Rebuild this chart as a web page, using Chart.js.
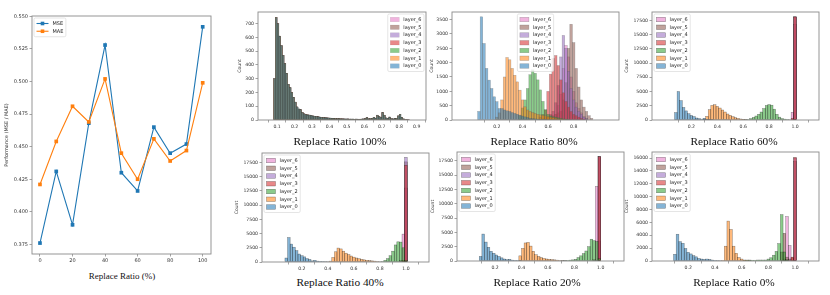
<!DOCTYPE html>
<html>
<head>
<meta charset="utf-8">
<script src="https://cdn.jsdelivr.net/npm/chart.js@4.4.0/dist/chart.umd.min.js"></script>
<style>
  html, body { margin: 0; padding: 0; background: #fff; }
  #fig { position: relative; width: 830px; height: 295px; overflow: hidden; }
  #fig canvas { position: absolute; }
  .cap { position: absolute; font-family: 'Liberation Serif', 'Times New Roman', serif; color: #111;
         white-space: nowrap; transform: translate(-50%, -50%); line-height: 1; }
</style>
</head>
<body>
<div id="fig">
  <canvas id="cLine"></canvas>
  <canvas id="c100"></canvas>
  <canvas id="c80"></canvas>
  <canvas id="c60"></canvas>
  <canvas id="c40"></canvas>
  <canvas id="c20"></canvas>
  <canvas id="c0"></canvas>
  <div class="cap" style="left:122px;top:276px;font-size:9px">Replace Ratio (%)</div>
  <div class="cap" style="left:340px;top:142px;font-size:11.3px">Replace Ratio 100%</div>
  <div class="cap" style="left:534px;top:142px;font-size:11.3px">Replace Ratio 80%</div>
  <div class="cap" style="left:734px;top:142px;font-size:11.3px">Replace Ratio 60%</div>
  <div class="cap" style="left:340px;top:283px;font-size:11.3px">Replace Ratio 40%</div>
  <div class="cap" style="left:537px;top:283px;font-size:11.3px">Replace Ratio 20%</div>
  <div class="cap" style="left:734px;top:283px;font-size:11.3px">Replace Ratio 0%</div>
</div>
<script>
/* ---------- data: left line chart ---------- */
const ratioPct = [0, 10, 20, 30, 40, 50, 60, 70, 80, 90, 100];
const mseVals = [0.376, 0.431, 0.390, 0.468, 0.528, 0.430, 0.416, 0.465, 0.445, 0.452, 0.542];
const maeVals = [0.421, 0.454, 0.481, 0.469, 0.502, 0.445, 0.425, 0.456, 0.439, 0.447, 0.499];
const lineXTicks = [0, 20, 40, 60, 80, 100];
const lineYTicks = [0.375, 0.400, 0.425, 0.450, 0.475, 0.500, 0.525, 0.550];

/* ---------- data: histograms (counts per bin, layer_0 .. layer_6) ---------- */
const layerNames = ['layer_0', 'layer_1', 'layer_2', 'layer_3', 'layer_4', 'layer_5', 'layer_6'];

// Replace Ratio 100% -- all seven layers lie on top of each other
const r100Width = 0.01;
const r100Start = 0.085;
const r100Counts = [300, 745, 700, 610, 540, 470, 410, 340, 260, 235,
  200, 165, 130, 95, 80, 75, 55, 45, 40, 38,
  36, 34, 30, 28, 26, 24, 22, 20, 18, 17,
  16, 15, 14, 13, 12, 11, 10, 10, 9, 9,
  8, 8, 8, 7, 7, 7, 6, 7, 6, 6,
  7, 8, 10, 18, 9, 10, 12, 20, 14, 35,
  25, 20, 55, 35, 15, 12, 22, 10, 8, 10,
  12, 30, 42, 20, 8, 5, 4, 3];

// Replace Ratio 80%
const r80Width = 0.02;
const r80Start = [0.06, 0.20, 0.38, 0.54, 0.60, 0.56, 0.66];
const r80L0 = [300, 3600, 2670, 1800, 1390, 1100, 810, 640, 400, 400, 350, 320, 300, 260, 230, 200, 170, 140, 110, 90, 60, 50, 40, 30, 25, 20, 15, 10];
const r80L1 = [100, 250, 700, 1500, 2180, 2100, 1800, 1560, 1330, 1040, 700, 460, 350, 300, 260, 230, 200, 180, 160, 140, 120, 100, 80, 60, 40, 30, 20];
const r80L2 = [150, 420, 700, 1100, 1580, 1750, 1630, 1400, 1050, 650, 360, 200, 150, 120, 100, 80, 60, 40, 30, 20];
const r80L3 = [100, 200, 350, 1000, 1600, 2150, 2250, 1900, 1400, 950, 650, 450, 300, 200, 150, 100, 60, 30];
const r80L4 = [100, 200, 300, 600, 1200, 2200, 2950, 2500, 1700, 1100, 700, 450, 300, 200, 100, 50];
const r80L5 = [50, 80, 100, 120, 150, 200, 250, 300, 700, 1300, 2500, 3340, 2700, 1800, 1150, 700, 450, 300, 150, 60];
const r80L6 = [200, 500, 900, 1800, 2600, 2200, 1500, 1000, 600, 400, 250, 120, 50];

// Replace Ratio 60%
const r60Width = 0.02;
const r60Start = [0.08, 0.30, 0.60, 0.98, 1.00, 1.00, 0.98];
const r60L0 = [1300, 5000, 3400, 2200, 1600, 1100, 800, 600, 350, 250, 150, 300, 120, 80, 60, 50, 40, 30, 30, 20];
const r60L1 = [150, 640, 1800, 2560, 2680, 2390, 2100, 1750, 1400, 1050, 820, 580, 410, 290, 175, 120, 80, 50];
const r60L2 = [60, 80, 100, 250, 450, 700, 1000, 1400, 2000, 2550, 2700, 2600, 1900, 1000, 500, 250, 150, 100, 60];
const r60L3 = [300, 18100];
const r60L4 = [18100];
const r60L5 = [18100];
const r60L6 = [1340, 16800];

// Replace Ratio 40%
const r40Width = 0.02;
const r40Start = [0.08, 0.42, 0.82, 0.98, 1.00, 1.00, 0.96];
const r40L0 = [700, 4300, 3150, 2600, 2000, 1400, 1100, 900, 600, 450, 200, 300, 150, 120, 100, 80, 60];
const r40L1 = [150, 800, 1800, 2450, 2300, 1900, 1550, 1300, 1050, 850, 700, 580, 470, 380, 300, 250, 200, 150, 100, 60];
const r40L2 = [100, 300, 600, 1100, 1900, 3000, 3550, 3500, 2500, 300];
const r40L3 = [300, 17000];
const r40L4 = [18400];
const r40L5 = [17600];
const r40L6 = [300, 4900, 13000];

// Replace Ratio 20%
const r20Width = 0.02;
const r20Start = [0.09, 0.39, 0.71, 0.99, 0.99, 0.99, 0.95];
const r20L0 = [800, 4700, 3300, 2400, 1700, 1350, 1050, 800, 550, 350, 250, 300, 150, 120, 100, 80];
const r20L1 = [900, 2200, 3150, 3250, 2600, 1700, 1100, 800, 600, 450, 350, 300, 250, 200, 150, 100, 80, 60];
const r20L2 = [60, 80, 100, 150, 200, 300, 600, 900, 1300, 1750, 2500, 3800, 3550, 3400, 400];
const r20L3 = [18200];
const r20L4 = [18200];
const r20L5 = [18200];
const r20L6 = [300, 13000, 3500];

// Replace Ratio 0%
const r0Width = 0.02;
const r0Start = [0.10, 0.46, 0.62, 0.98, 1.00, 0.90, 0.92];
const r0L0 = [1040, 4160, 3000, 2750, 1950, 1350, 1100, 830, 650, 400, 300, 250, 300, 250, 150, 100, 80, 60];
const r0L1 = [100, 2300, 6200, 4900, 2300, 1200, 550, 300, 150, 100, 60];
const r0L2 = [100, 150, 150, 120, 120, 150, 150, 150, 150, 300, 500, 900, 1500, 2700, 7200, 1400, 200];
const r0L3 = [600, 16100];
const r0L4 = [16000];
const r0L5 = [1400, 4300, 600, 300, 500, 15500];
const r0L6 = [300, 6900, 2400];

// axis ticks
const xTicks100 = [0.1, 0.2, 0.3, 0.4, 0.5, 0.6, 0.7, 0.8, 0.9];
const xTicks80 = [0.2, 0.4, 0.6, 0.8];
const xTicksFull = [0.2, 0.4, 0.6, 0.8, 1.0];
const yTicks100 = [0, 100, 200, 300, 400, 500, 600, 700];
const yTicks80 = [0, 500, 1000, 1500, 2000, 2500, 3000, 3500];
const yTicksBig = [0, 2500, 5000, 7500, 10000, 12500, 15000, 17500];
const yTicks0 = [0, 2000, 4000, 6000, 8000, 10000, 12000, 14000, 16000];

/* ---------- layout / style ---------- */
const PAD_T = 6, PAD_R = 8, AXIS_H = 10;
const layerRGB = ['31,119,180', '255,127,14', '44,160,44', '214,39,40', '148,103,189', '140,86,75', '227,119,194'];
const FONT = 'DejaVu Sans';

function bins(start, width, counts) {
  return counts.map((c, i) => ({ x: +(start + i * width).toFixed(4), y: c }));
}

// grey box round the plot, like matplotlib spines
const frame = {
  id: 'frame',
  afterDatasetsDraw(chart) {
    const a = chart.chartArea, ctx = chart.ctx;
    ctx.save();
    ctx.strokeStyle = '#8a8a8a';
    ctx.lineWidth = 0.9;
    ctx.strokeRect(a.left, a.top, a.right - a.left, a.bottom - a.top);
    ctx.restore();
  }
};

// thin outline of every bar, drawn right after its own layer
const barEdges = {
  id: 'barEdges',
  afterDatasetDraw(chart, args, o) {
    if (!o.color) return;
    const ctx = chart.ctx;
    ctx.save();
    ctx.strokeStyle = o.color;
    ctx.lineWidth = o.width;
    args.meta.data.forEach(el => {
      const h = el.base - el.y;
      if (h <= 0) return;
      ctx.strokeRect(el.x - el.width / 2, el.y, el.width, h);
    });
    ctx.restore();
  }
};

// legend drawn inside the plot area
const boxLegend = {
  id: 'boxLegend',
  afterDatasetsDraw(chart, args, o) {
    if (!o.where) return;
    const ctx = chart.ctx, a = chart.chartArea;
    let sets = chart.data.datasets.slice();
    if (o.reverse) sets.reverse();
    const fs = o.fontSize, row = fs * 1.55, pad = fs * 0.5;
    ctx.save();
    ctx.font = fs + 'px "' + FONT + '"';
    const tw = Math.max(...sets.map(d => ctx.measureText(d.label).width));
    const w = pad + o.handleW + fs * 0.8 + tw + pad;
    const h = pad * 2 + row * sets.length - fs * 0.35;
    let x0 = a.left + 2;
    if (o.where === 'ur') x0 = a.right - 2 - w;
    if (o.where === 'uc') x0 = (a.left + a.right - w) / 2;
    const y0 = a.top + 2;
    ctx.beginPath();
    ctx.roundRect(x0, y0, w, h, 1.5);
    ctx.fillStyle = 'rgba(255,255,255,0.8)';
    ctx.fill();
    ctx.strokeStyle = '#d4d4d4';
    ctx.lineWidth = 0.6;
    ctx.stroke();
    sets.forEach((d, i) => {
      const cy = y0 + pad + fs * 0.6 + row * i;
      const hx = x0 + pad;
      if (o.lines) {
        ctx.strokeStyle = d.borderColor;
        ctx.lineWidth = 1.1;
        ctx.beginPath();
        ctx.moveTo(hx, cy);
        ctx.lineTo(hx + o.handleW, cy);
        ctx.stroke();
        ctx.fillStyle = d.backgroundColor;
        ctx.fillRect(hx + o.handleW / 2 - 1.8, cy - 1.8, 3.6, 3.6);
      } else {
        ctx.fillStyle = d.backgroundColor;
        ctx.fillRect(hx, cy - o.handleH / 2, o.handleW, o.handleH);
        ctx.strokeStyle = o.edge;
        ctx.lineWidth = 0.5;
        ctx.strokeRect(hx, cy - o.handleH / 2, o.handleW, o.handleH);
      }
      ctx.fillStyle = '#222';
      ctx.textBaseline = 'middle';
      ctx.fillText(d.label, hx + o.handleW + fs * 0.8, cy);
    });
    ctx.restore();
  }
};

function axis(min, max, ticks, fmt, size, fixed, isX, title) {
  return {
    type: 'linear', min, max,
    afterBuildTicks: s => { s.ticks = ticks.map(v => ({ value: v })); },
    afterFit: s => { if (isX) s.height = fixed; else s.width = fixed; },
    ticks: { font: { family: FONT, size }, color: '#333', padding: 1.5, autoSkip: false, maxRotation: 0, callback: fmt },
    grid: { drawOnChartArea: false, drawTicks: true, tickLength: 2.5, color: '#666', lineWidth: 0.6 },
    border: { display: false },
    title: title ? { display: true, text: title.text, font: { family: FONT, size: title.size }, color: '#333', padding: 0 }
                 : { display: false }
  };
}

function place(id, box, yw) {
  const c = document.getElementById(id);
  c.width = box[1] - box[0] + yw + PAD_R;
  c.height = box[3] - box[2] + PAD_T + AXIS_H;
  c.style.left = (box[0] - yw) + 'px';
  c.style.top = (box[2] - PAD_T) + 'px';
  return c;
}

const common = {
  responsive: false, animation: false, events: [],
  layout: { padding: { top: PAD_T, right: PAD_R, left: 0, bottom: 0 } }
};

function histChart(id, box, yw, layers, starts, width, xr, yr, xt, yt, where, edge) {
  const canvas = place(id, box, yw);
  return new Chart(canvas, {
    type: 'bar',
    data: {
      datasets: layers.map((counts, i) => ({
        label: layerNames[i],
        data: bins(Array.isArray(starts) ? starts[i] : starts, width, counts),
        backgroundColor: 'rgba(' + layerRGB[i] + ',0.55)',
        borderWidth: 0,
        inflateAmount: 0,
        barPercentage: 1, categoryPercentage: 1, grouped: false
      }))
    },
    options: Object.assign({}, common, {
      scales: {
        x: axis(xr[0], xr[1], xt, v => v.toFixed(1), 4.6, AXIS_H, true),
        y: axis(yr[0], yr[1], yt, v => String(v), 4.6, yw, false, { text: 'Count', size: 4.6 })
      },
      plugins: {
        legend: { display: false }, tooltip: { enabled: false },
        barEdges: { color: edge, width: 0.5 },
        boxLegend: { where, reverse: true, fontSize: 5, handleW: 9, handleH: 4.5, edge }
      }
    }),
    plugins: [barEdges, frame, boxLegend]
  });
}

/* ---------- left: line chart ---------- */
new Chart(place('cLine', [32, 211, 16, 254], 28), {
  type: 'line',
  data: {
    datasets: [
      { label: 'MSE', data: ratioPct.map((x, i) => ({ x, y: mseVals[i] })), order: 1,
        borderColor: '#1f77b4', backgroundColor: '#1f77b4', borderWidth: 1.1,
        pointStyle: 'rect', pointRadius: 2.6, pointBorderWidth: 0 },
      { label: 'MAE', data: ratioPct.map((x, i) => ({ x, y: maeVals[i] })), order: 0,
        borderColor: '#ff7f0e', backgroundColor: '#ff7f0e', borderWidth: 1.1,
        pointStyle: 'rect', pointRadius: 2.6, pointBorderWidth: 0 }
    ]
  },
  options: Object.assign({}, common, {
    scales: {
      x: axis(-4.9, 105.1, lineXTicks, v => String(v), 5, AXIS_H, true),
      y: axis(0.3676, 0.5503, lineYTicks, v => v.toFixed(3), 5, 28, false, { text: 'Performance (MSE / MAE)', size: 5 })
    },
    plugins: {
      legend: { display: false }, tooltip: { enabled: false },
      boxLegend: { where: 'ul', lines: true, fontSize: 5, handleW: 12 }
    }
  }),
  plugins: [frame, boxLegend]
});

/* ---------- histogram panels ---------- */
const darkEdge = 'rgba(0,0,0,0.45)';
histChart('c100', [258, 426, 12, 120], 21,
  [r100Counts, r100Counts, r100Counts, r100Counts, r100Counts, r100Counts, r100Counts],
  r100Start, r100Width, [0.044, 0.9], [0, 785], xTicks100, yTicks100, 'ur', 'rgba(0,0,0,0.12)');
histChart('c80', [452, 619, 12, 120], 23,
  [r80L0, r80L1, r80L2, r80L3, r80L4, r80L5, r80L6],
  r80Start, r80Width, [0.013, 0.991], [0, 3767], xTicks80, yTicks80, 'uc', 'rgba(90,90,90,0.45)');
histChart('c60', [652, 819, 12, 120], 28,
  [r60L0, r60L1, r60L2, r60L3, r60L4, r60L5, r60L6],
  r60Start, r60Width, [0.025, 1.056], [0, 18958], xTicksFull, yTicksBig, 'ul', darkEdge);
histChart('c40', [262, 429, 153, 262], 28,
  [r40L0, r40L1, r40L2, r40L3, r40L4, r40L5, r40L6],
  r40Start, r40Width, [0.022, 1.049], [0, 19161], xTicksFull, yTicksBig, 'ul', darkEdge);
histChart('c20', [457, 624, 152, 261], 27,
  [r20L0, r20L1, r20L2, r20L3, r20L4, r20L5, r20L6],
  r20Start, r20Width, [0.038, 1.05], [0, 19017], xTicksFull, yTicksBig, 'ul', darkEdge);
histChart('c0', [652, 819, 152, 261], 28,
  [r0L0, r0L1, r0L2, r0L3, r0L4, r0L5, r0L6],
  r0Start, r0Width, [0.054, 1.054], [0, 16935], xTicksFull, yTicks0, 'ul', darkEdge);
</script>
</body>
</html>
